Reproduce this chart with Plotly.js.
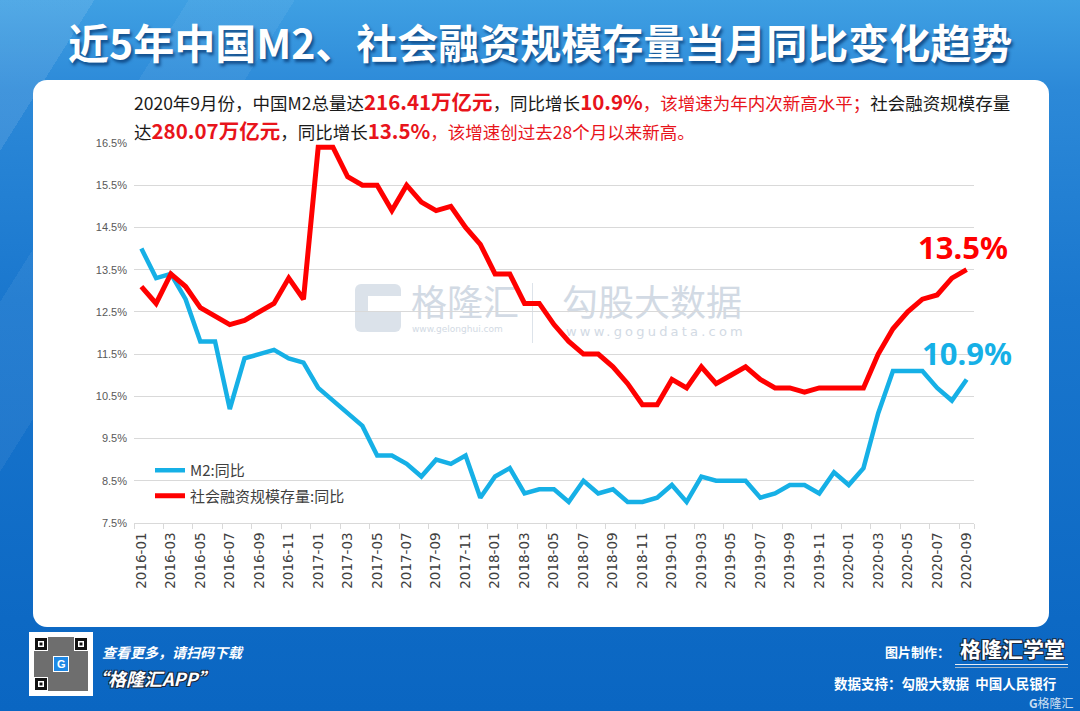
<!DOCTYPE html>
<html><head><meta charset="utf-8">
<script src="https://cdn.plot.ly/plotly-3.0.1.min.js"></script>
<style>
html,body{margin:0;padding:0;width:1080px;height:711px;overflow:hidden;}
#bg{position:absolute;left:0;top:0;width:1080px;height:711px;background:
 linear-gradient(122deg, rgba(255,255,255,0.10) 0px, rgba(255,255,255,0.10) 80px, rgba(255,255,255,0) 80px, rgba(255,255,255,0) 160px, rgba(255,255,255,0.06) 160px, rgba(255,255,255,0.06) 250px, rgba(255,255,255,0) 250px),
 linear-gradient(to bottom, #3fa0e3 0px, #2c89d8 90px, #1a77ce 300px, #0d69c4 620px, #0a66c2 711px);}
#panel{position:absolute;left:33px;top:80px;width:1016px;height:547px;background:#fff;border-radius:14px;}
.wm{position:absolute;font-family:"Noto Sans CJK SC";color:#d2dae4;white-space:nowrap;}
#chart{position:absolute;left:0;top:0;width:1080px;height:711px;}
</style></head>
<body>
<div id="bg"></div>
<div id="panel"></div>
<div class="wm" style="left:355px;top:284px;width:46px;height:48px;border-radius:6px;background:#dbe2ea;"></div>
<div class="wm" style="left:368px;top:296px;width:33px;height:16px;background:#fff;"></div>
<div class="wm" style="left:411px;top:278px;font-size:36px;line-height:44px;">格隆汇</div>
<div class="wm" style="left:412px;top:324px;font-size:9px;font-family:'DejaVu Sans';">www.gelonghui.com</div>
<div class="wm" style="left:532px;top:283px;width:1px;height:60px;background:#dde3ea;"></div>
<div class="wm" style="left:562px;top:278px;font-size:36px;line-height:44px;">勾股大数据</div>
<div class="wm" style="left:566px;top:324px;font-size:13px;letter-spacing:3.2px;font-family:'DejaVu Sans';">www.gogudata.com</div>
<div id="chart"></div>
<script>
const months = ["2016-01","2016-02","2016-03","2016-04","2016-05","2016-06","2016-07","2016-08","2016-09","2016-10","2016-11","2016-12",
"2017-01","2017-02","2017-03","2017-04","2017-05","2017-06","2017-07","2017-08","2017-09","2017-10","2017-11","2017-12",
"2018-01","2018-02","2018-03","2018-04","2018-05","2018-06","2018-07","2018-08","2018-09","2018-10","2018-11","2018-12",
"2019-01","2019-02","2019-03","2019-04","2019-05","2019-06","2019-07","2019-08","2019-09","2019-10","2019-11","2019-12",
"2020-01","2020-02","2020-03","2020-04","2020-05","2020-06","2020-07","2020-08","2020-09"];
const m2 = [14.0,13.3,13.4,12.8,11.8,11.8,10.2,11.4,11.5,11.6,11.4,11.3,
10.7,10.4,10.1,9.8,9.1,9.1,8.9,8.6,9.0,8.9,9.1,8.1,
8.6,8.8,8.2,8.3,8.3,8.0,8.5,8.2,8.3,8.0,8.0,8.1,
8.4,8.0,8.6,8.5,8.5,8.5,8.1,8.2,8.4,8.4,8.2,8.7,
8.4,8.8,10.1,11.1,11.1,11.1,10.7,10.4,10.9];
const tsf = [13.1,12.7,13.4,13.1,12.6,12.4,12.2,12.3,12.5,12.7,13.3,12.8,
16.4,16.4,15.7,15.5,15.5,14.9,15.5,15.1,14.9,15.0,14.5,14.1,
13.4,13.4,12.7,12.7,12.2,11.8,11.5,11.5,11.2,10.8,10.3,10.3,
10.9,10.7,11.2,10.8,11.0,11.2,10.9,10.7,10.7,10.6,10.7,10.7,
10.7,10.7,11.5,12.1,12.5,12.8,12.9,13.3,13.5];
const tickMonths = ["2016-01","2016-03","2016-05","2016-07","2016-09","2016-11","2017-01","2017-03","2017-05","2017-07","2017-09","2017-11",
"2018-01","2018-03","2018-05","2018-07","2018-09","2018-11","2019-01","2019-03","2019-05","2019-07","2019-09","2019-11",
"2020-01","2020-03","2020-05","2020-07","2020-09"];
const seriesNames = ["M2:同比","社会融资规模存量:同比"];

const L=134, R=974, T=143, B=523;
const PX = x => (x-L)/(R-L);
const PY = y => (B-y)/(B-T);
const CJK = "Noto Sans CJK SC";
const RED = "#ff0000", BLUE = "#16b0e6";
const OUT = '-1px -1px 0 #1b2a40, 1px -1px 0 #1b2a40, -1px 1px 0 #1b2a40, 1px 1px 0 #1b2a40';

const traces = [
 {x: months, y: m2, name: seriesNames[0], type:'scatter', mode:'lines', line:{color:BLUE, width:4.5}, legendgroup:'a'},
 {x: months, y: tsf, name: seriesNames[1], type:'scatter', mode:'lines', line:{color:RED, width:5}, legendgroup:'b'}
];

const last = months.length-1;
const annotations = [
 {text:"近5年中国M2、社会融资规模存量当月同比变化趋势", xref:'paper', yref:'paper', x:PX(540), y:PY(41), xanchor:'center', yanchor:'middle', showarrow:false,
  font:{family:CJK, size:41, color:'#ffffff', weight:'bold', shadow:'2px 3px 3px rgba(0,45,100,0.65)'}},
 {text:"2020年9月份，中国M2总量达<span style='color:#e8141b;font-size:20.5px'><b>216.41万亿元</b></span>，同比增长<span style='color:#e8141b;font-size:20.5px'><b>10.9%</b></span><span style='color:#e8141b'>，该增速为年内次新高水平；</span>社会融资规模存量",
  xref:'paper', yref:'paper', x:PX(132), y:PY(101), xanchor:'left', yanchor:'middle', showarrow:false,
  font:{family:CJK, size:17.5, color:'#1a1a1a'}},
 {text:"达<span style='color:#e8141b;font-size:20.5px'><b>280.07万亿元</b></span>，同比增长<span style='color:#e8141b;font-size:20.5px'><b>13.5%</b></span><span style='color:#e8141b'>，该增速创过去28个月以来新高。</span>",
  xref:'paper', yref:'paper', x:PX(132), y:PY(130), xanchor:'left', yanchor:'middle', showarrow:false,
  font:{family:CJK, size:17.5, color:'#1a1a1a'}},
 {text: tsf[last].toFixed(1)+'%', x: months[last], y: tsf[last], xref:'x', yref:'y', xanchor:'center', yanchor:'middle', yshift:23, xshift:-4, showarrow:false,
  font:{family:'Noto Sans', size:31, color:RED, weight:'bold'}},
 {text: m2[last].toFixed(1)+'%', x: months[last], y: m2[last], xref:'x', yref:'y', xanchor:'center', yanchor:'middle', yshift:26, xshift:0, showarrow:false,
  font:{family:'Noto Sans', size:31, color:BLUE, weight:'bold'}},
 // footer
 {text:"查看更多，请扫码下载", xref:'paper', yref:'paper', x:PX(100), y:PY(652), xanchor:'left', yanchor:'middle', showarrow:false,
  font:{family:CJK, size:14, color:'#ffffff', weight:'bold', style:'italic'}},
 {text:"“格隆汇APP”", xref:'paper', yref:'paper', x:PX(88), y:PY(678), xanchor:'left', yanchor:'middle', showarrow:false,
  font:{family:CJK, size:18, color:'#ffffff', weight:'bold', style:'italic', shadow:OUT}},
 {text:"图片制作：", xref:'paper', yref:'paper', x:PX(952), y:PY(651), xanchor:'right', yanchor:'middle', showarrow:false,
  font:{family:CJK, size:13, color:'#ffffff', weight:'bold'}},
 {text:"格隆汇学堂", xref:'paper', yref:'paper', x:PX(1012), y:PY(648), xanchor:'center', yanchor:'middle', showarrow:false,
  font:{family:CJK, size:21, color:'#ffffff', weight:'bold', shadow:OUT}},
 {text:"数据支持：勾股大数据  中国人民银行", xref:'paper', yref:'paper', x:PX(1058), y:PY(683), xanchor:'right', yanchor:'middle', showarrow:false,
  font:{family:CJK, size:13.5, color:'#ffffff', weight:'bold'}},
 {text:"<b>G</b>格隆汇", xref:'paper', yref:'paper', x:PX(1076), y:PY(702), xanchor:'right', yanchor:'middle', showarrow:false,
  font:{family:CJK, size:12, color:'rgba(255,255,255,0.8)'}},
 {text:"<b>G</b>", xref:'paper', yref:'paper', x:PX(61), y:PY(664), xanchor:'center', yanchor:'middle', showarrow:false,
  font:{family:'Liberation Sans', size:11, color:'#ffffff'}}
];

function rect(x0,y0,x1,y1,fill){
 return {type:'rect', xref:'paper', yref:'paper', x0:PX(x0), x1:PX(x1), y0:PY(y0), y1:PY(y1), fillcolor:fill, line:{width:0}, layer:'above'};
}
const shapes = [
 rect(29,632,93,696,'#ffffff'),
 rect(34,637,88,691,'#6e6e6e'),
 rect(34,637,48,651,'#ffffff'), rect(35,638,47,650,'#111111'), rect(38,641,44,647,'#ffffff'), rect(39.5,642.5,42.5,645.5,'#111111'),
 rect(74,637,88,651,'#ffffff'), rect(75,638,87,650,'#111111'), rect(78,641,84,647,'#ffffff'), rect(79.5,642.5,82.5,645.5,'#111111'),
 rect(34,677,48,691,'#ffffff'), rect(35,678,47,690,'#111111'), rect(38,681,44,687,'#ffffff'), rect(39.5,682.5,42.5,685.5,'#111111'),
 rect(53,656,69,672,'#ffffff'), rect(54,657,68,671,'#1e88e5'),
 rect(955,664,1068,665,'#e8eef5'), rect(955,667,1068,668,'#9fb4c9')
];

const layout = {
 width:1080, height:711,
 margin:{l:L, r:1080-R, t:T, b:711-B, pad:0},
 paper_bgcolor:'rgba(0,0,0,0)', plot_bgcolor:'rgba(0,0,0,0)',
 xaxis:{type:'category', range:[-0.5, months.length-0.5], tickmode:'array', tickvals:tickMonths, ticktext:tickMonths,
   tickangle:-90, tickfont:{family:'DejaVu Sans', size:13.5, color:'#404040'}, showgrid:false, showline:true, linecolor:'#d9d9d9',
   linewidth:1, ticks:'outside', ticklen:5, tickcolor:'#d9d9d9', tickson:'boundaries', ticklabelstandoff:3, zeroline:false, fixedrange:true},
 yaxis:{range:[7.5,16.5], tick0:7.5, dtick:1, tickformat:'.1f', ticksuffix:'%', gridcolor:'#d9d9d9', gridwidth:1, showline:false,
   zeroline:false, ticks:'', ticklabelstandoff:6, tickfont:{family:'Liberation Sans', size:11, color:'#595959'}, fixedrange:true},
 showlegend:true,
 legend:{x:PX(150), y:PY(454), xanchor:'left', yanchor:'top', bgcolor:'rgba(0,0,0,0)', tracegroupgap:3,
   font:{family:CJK, size:15, color:'#404040'}},
 annotations: annotations,
 shapes: shapes
};
Plotly.newPlot('chart', traces, layout, {staticPlot:true, displayModeBar:false});
</script>
</body></html>
